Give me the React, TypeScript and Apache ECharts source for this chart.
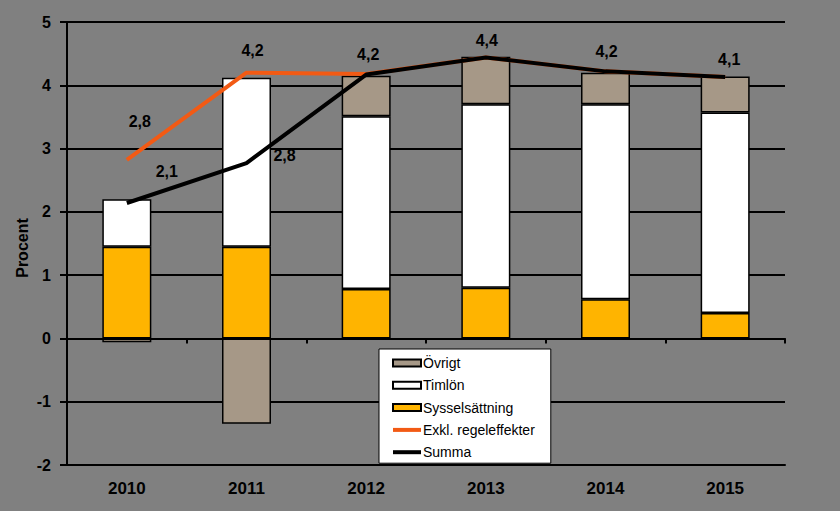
import React, { useEffect, useRef } from "react";
import * as echarts from "echarts";

const years = ["2010", "2011", "2012", "2013", "2014", "2015"];
const sysselsattning = [1.45, 1.45, 0.78, 0.8, 0.62, 0.4];
const timlon = [0.75, 2.67, 2.73, 2.9, 3.08, 3.17];
const ovrigt = [-0.06, -1.35, 0.64, 0.75, 0.5, 0.57];
const exkl = [2.82, 4.2, 4.18, 4.44, 4.22, 4.13];
const summa = [2.14, 2.77, 4.17, 4.44, 4.22, 4.13];
const exklLabelShown = [true, true, false, false, false, false];
const exklLabelOffset = [[13, -38], [6, -22], [0, 0], [0, 0], [0, 0], [0, 0]];
const summaLabelOffset = [[40, -31], [38, -8], [2, -20], [1, -17], [1, -20], [4, -18]];

const fmt = (v: number) => v.toFixed(1).replace(".", ",");

export default function App() {
  const ref = useRef<HTMLDivElement>(null);
  useEffect(() => {
    const chart = echarts.init(ref.current!, undefined, { renderer: "svg" });
    const labelFont = { fontFamily: "Liberation Sans, Arial", fontWeight: "bold" as const, fontSize: 16, color: "#000" };
    const barBorder = { borderColor: "#000", borderWidth: 1.5 };
    chart.setOption({
      animation: false,
      backgroundColor: "#808080",
      textStyle: { fontFamily: "Liberation Sans, Arial" },
      grid: { left: 67, right: 55, top: 22, bottom: 46 },
      legend: {
        orient: "vertical",
        left: 379,
        top: 349,
        backgroundColor: "#fff",
        borderColor: "#000",
        borderWidth: 1,
        borderRadius: 0,
        padding: [7, 16, 4, 12],
        itemGap: 8.3,
        itemWidth: 28,
        itemHeight: 7,
        textStyle: { fontSize: 14, color: "#000", fontFamily: "Liberation Sans, Arial", padding: [0, 0, 0, -3] },
        data: [
          { name: "Övrigt", icon: "rect" },
          { name: "Timlön", icon: "rect" },
          { name: "Sysselsättning", icon: "rect" },
          { name: "Exkl. regeleffekter", itemStyle: { opacity: 0 }, lineStyle: { width: 4 } },
          { name: "Summa", itemStyle: { opacity: 0 }, lineStyle: { width: 4 } },
        ],
      },
      graphic: [
        {
          type: "text",
          x: 22,
          y: 248,
          rotation: Math.PI / 2,
          style: { text: "Procent", fontSize: 16, fontWeight: "bold", fontFamily: "Liberation Sans, Arial", fill: "#000", textAlign: "center", textVerticalAlign: "middle" },
        },
      ],
      xAxis: [
        {
          type: "category",
          data: years,
          position: "bottom",
          axisLine: { onZero: false, lineStyle: { color: "#000", width: 2 } },
          axisTick: { show: false },
          axisLabel: { ...labelFont, fontSize: 17, margin: 15 },
        },
        {
          type: "category",
          data: years,
          position: "bottom",
          axisLine: { onZero: true, lineStyle: { color: "#000", width: 2 } },
          axisTick: { show: true, length: 5, lineStyle: { color: "#000", width: 2 } },
          axisLabel: { show: false },
        },
      ],
      yAxis: {
        type: "value",
        min: -2,
        max: 5,
        interval: 1,
        axisLine: { show: true, lineStyle: { color: "#000", width: 2 } },
        axisTick: { show: true, length: 7, lineStyle: { color: "#000", width: 2 } },
        axisLabel: { ...labelFont, margin: 16 },
        splitLine: { lineStyle: { color: "#000", width: 2 } },
      },
      series: [
        {
          name: "Sysselsättning",
          type: "bar",
          stack: "a",
          barWidth: 49,
          data: sysselsattning,
          itemStyle: { color: "#FFB400", ...barBorder },
        },
        {
          name: "Timlön",
          type: "bar",
          stack: "a",
          barWidth: 49,
          data: timlon,
          itemStyle: { color: "#FFFFFF", ...barBorder },
        },
        {
          name: "Övrigt",
          type: "bar",
          stack: "a",
          barWidth: 49,
          data: ovrigt,
          itemStyle: { color: "#A69887", ...barBorder },
        },
        {
          name: "Exkl. regeleffekter",
          type: "line",
          data: exkl.map((v, i) => ({
            value: v,
            label: { show: exklLabelShown[i], offset: exklLabelOffset[i] },
          })),
          symbol: "circle",
          symbolSize: 0.1,
          showSymbol: true,
          itemStyle: { color: "#F25A14" },
          lineStyle: { color: "#F25A14", width: 4 },
          label: { position: "inside", formatter: (p: any) => fmt(p.value), ...labelFont },
          z: 3,
        },
        {
          name: "Summa",
          type: "line",
          data: summa.map((v, i) => ({
            value: v,
            label: { show: true, offset: summaLabelOffset[i] },
          })),
          symbol: "circle",
          symbolSize: 0.1,
          showSymbol: true,
          itemStyle: { color: "#000" },
          lineStyle: { color: "#000", width: 4 },
          label: { position: "inside", formatter: (p: any) => fmt(p.value), ...labelFont },
          z: 4,
        },
      ],
    });
    return () => chart.dispose();
  }, []);
  return <div ref={ref} style={{ width: 840, height: 511, position: "absolute", left: 0, top: 0 }} />;
}
